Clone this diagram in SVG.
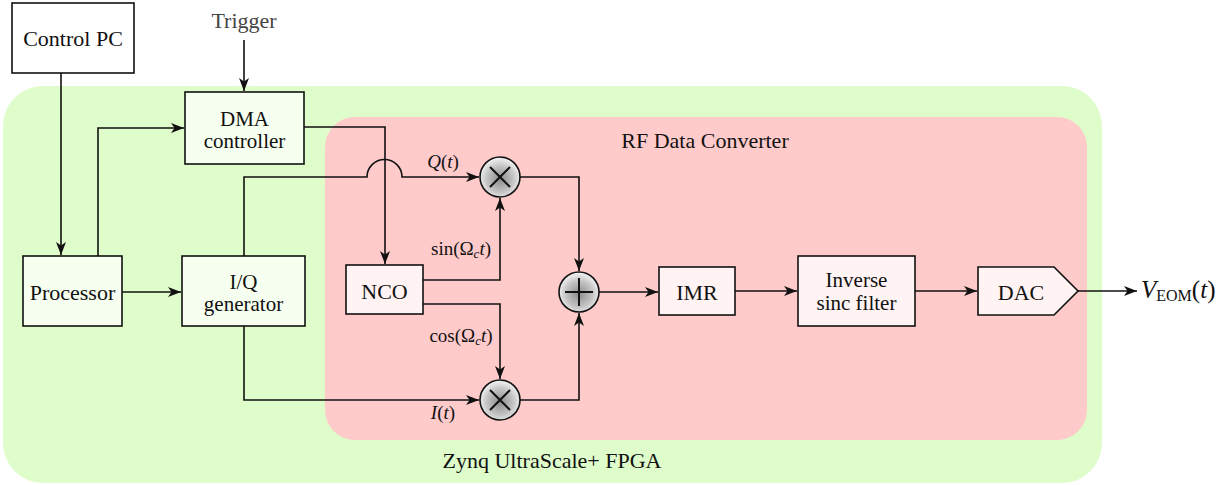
<svg xmlns="http://www.w3.org/2000/svg" width="1230" height="485" viewBox="0 0 1230 485">
<style>
.lbl{font-family:'Liberation Serif','Times New Roman',serif;font-size:22px;fill:#111;text-anchor:middle}
.lbl2{font-family:'Liberation Serif','Times New Roman',serif;font-size:21px;fill:#111;text-anchor:middle}
.mth{font-family:'Liberation Serif','Times New Roman',serif;font-size:19px;fill:#111;text-anchor:middle}
.box{stroke:#111;stroke-width:1.6}
.gf{fill:#f6fff0}
.pf{fill:#fff3f3}
.wf{fill:#fff}
.ca{fill:none;stroke:#111;stroke-width:1.6;marker-end:url(#ah)}
.op{fill:url(#ball);stroke:#111;stroke-width:1.6}
.sym{stroke:#111;stroke-width:2;fill:none}
</style>
<defs>
<marker id="ah" markerUnits="userSpaceOnUse" markerWidth="14" markerHeight="10" refX="13" refY="5" orient="auto">
<path d="M0,0 L13,5 L0,10 L3.5,5 z" fill="#111"/>
</marker>
<radialGradient id="ball" cx="0.5" cy="0.55" r="0.55">
<stop offset="0" stop-color="#8c8c8c"/>
<stop offset="0.6" stop-color="#c4c4c4"/>
<stop offset="1" stop-color="#f6f6f6"/>
</radialGradient>
</defs>

<g id="fpga">
<rect x="3" y="86" width="1099" height="397" rx="40" ry="40" fill="#dffccb"/>
<text class="lbl" x="552" y="468">Zynq UltraScale+ FPGA</text>
</g>
<g id="rfdc">
<rect x="325" y="117" width="762" height="323" rx="30" ry="30" fill="#ffcaca"/>
<text class="lbl" x="705" y="148">RF Data Converter</text>
</g>

<g id="connectors">
<line class="ca" x1="244" y1="40" x2="244" y2="91"/>
<line class="ca" x1="61" y1="73" x2="61" y2="255"/>
<polyline class="ca" points="98,256 98,128 184,128"/>
<polyline class="ca" points="304,127 385,127 385,264"/>
<path class="ca" d="M244,256 V177 H367 A17.5,17.5 0 0 1 402,177 H479"/>
<line class="ca" x1="122" y1="292" x2="181" y2="292"/>
<polyline class="ca" points="423,280 500,280 500,198"/>
<polyline class="ca" points="423,304 500,304 500,379"/>
<polyline class="ca" points="244,326 244,400 479,400"/>
<polyline class="ca" points="520,177 579,177 579,271"/>
<polyline class="ca" points="520,400 579,400 579,313"/>
<line class="ca" x1="599" y1="292" x2="658" y2="292"/>
<line class="ca" x1="735" y1="291" x2="797" y2="291"/>
<line class="ca" x1="915" y1="291" x2="977" y2="291"/>
<line class="ca" x1="1078" y1="291" x2="1137" y2="291"/>
<text class="mth" x="443" y="168"><tspan font-style="italic">Q</tspan>(<tspan font-style="italic">t</tspan>)</text>
<text class="mth" x="461" y="255">sin(Ω<tspan font-style="italic" font-size="13" dy="3">c</tspan><tspan font-style="italic" dy="-3">t</tspan>)</text>
<text class="mth" x="461" y="342">cos(Ω<tspan font-style="italic" font-size="13" dy="3">c</tspan><tspan font-style="italic" dy="-3">t</tspan>)</text>
<text class="mth" x="443" y="419"><tspan font-style="italic">I</tspan>(<tspan font-style="italic">t</tspan>)</text>
</g>

<g id="trigger">
<text class="lbl" x="244" y="28" style="fill:#444">Trigger</text>
</g>
<g id="control-pc">
<rect class="box wf" x="12" y="3" width="122" height="70"/>
<text class="lbl" x="73" y="46">Control PC</text>
</g>
<g id="dma">
<rect class="box gf" x="185" y="92" width="119" height="72"/>
<text class="lbl2" x="244.5" y="126">DMA</text>
<text class="lbl2" x="244.5" y="148">controller</text>
</g>
<g id="processor">
<rect class="box gf" x="23" y="256" width="99" height="70"/>
<text class="lbl" x="72.5" y="300">Processor</text>
</g>
<g id="iq">
<rect class="box gf" x="182" y="256" width="123" height="70"/>
<text class="lbl2" x="243.5" y="289">I/Q</text>
<text class="lbl2" x="243.5" y="311">generator</text>
</g>
<g id="nco">
<rect class="box pf" x="346" y="265" width="77" height="49"/>
<text class="lbl" x="384.5" y="299">NCO</text>
</g>
<g id="mult-q">
<circle class="op" cx="500" cy="177" r="20"/>
<path class="sym" d="M490,167 L510,187 M510,167 L490,187"/>
</g>
<g id="mult-i">
<circle class="op" cx="500" cy="400" r="20"/>
<path class="sym" d="M490,390 L510,410 M510,390 L490,410"/>
</g>
<g id="sum">
<circle class="op" cx="579" cy="292" r="20"/>
<path class="sym" d="M579,278 V306 M565,292 H593"/>
</g>
<g id="imr">
<rect class="box pf" x="659" y="267" width="76" height="48"/>
<text class="lbl" x="697" y="300">IMR</text>
</g>
<g id="sinc">
<rect class="box pf" x="798" y="256" width="117" height="70"/>
<text class="lbl2" x="856.5" y="287">Inverse</text>
<text class="lbl2" x="856.5" y="310">sinc filter</text>
</g>
<g id="dac">
<path class="box pf" d="M978,267 H1054 L1078,291 L1054,315 H978 Z"/>
<text class="lbl" x="1021" y="300">DAC</text>
</g>
<g id="veom">
<text class="lbl" x="1141" y="298" style="font-size:25px;text-anchor:start"><tspan font-style="italic">V</tspan><tspan font-size="16" dy="3">EOM</tspan><tspan dy="-3">(</tspan><tspan font-style="italic">t</tspan>)</text>
</g>
</svg>
